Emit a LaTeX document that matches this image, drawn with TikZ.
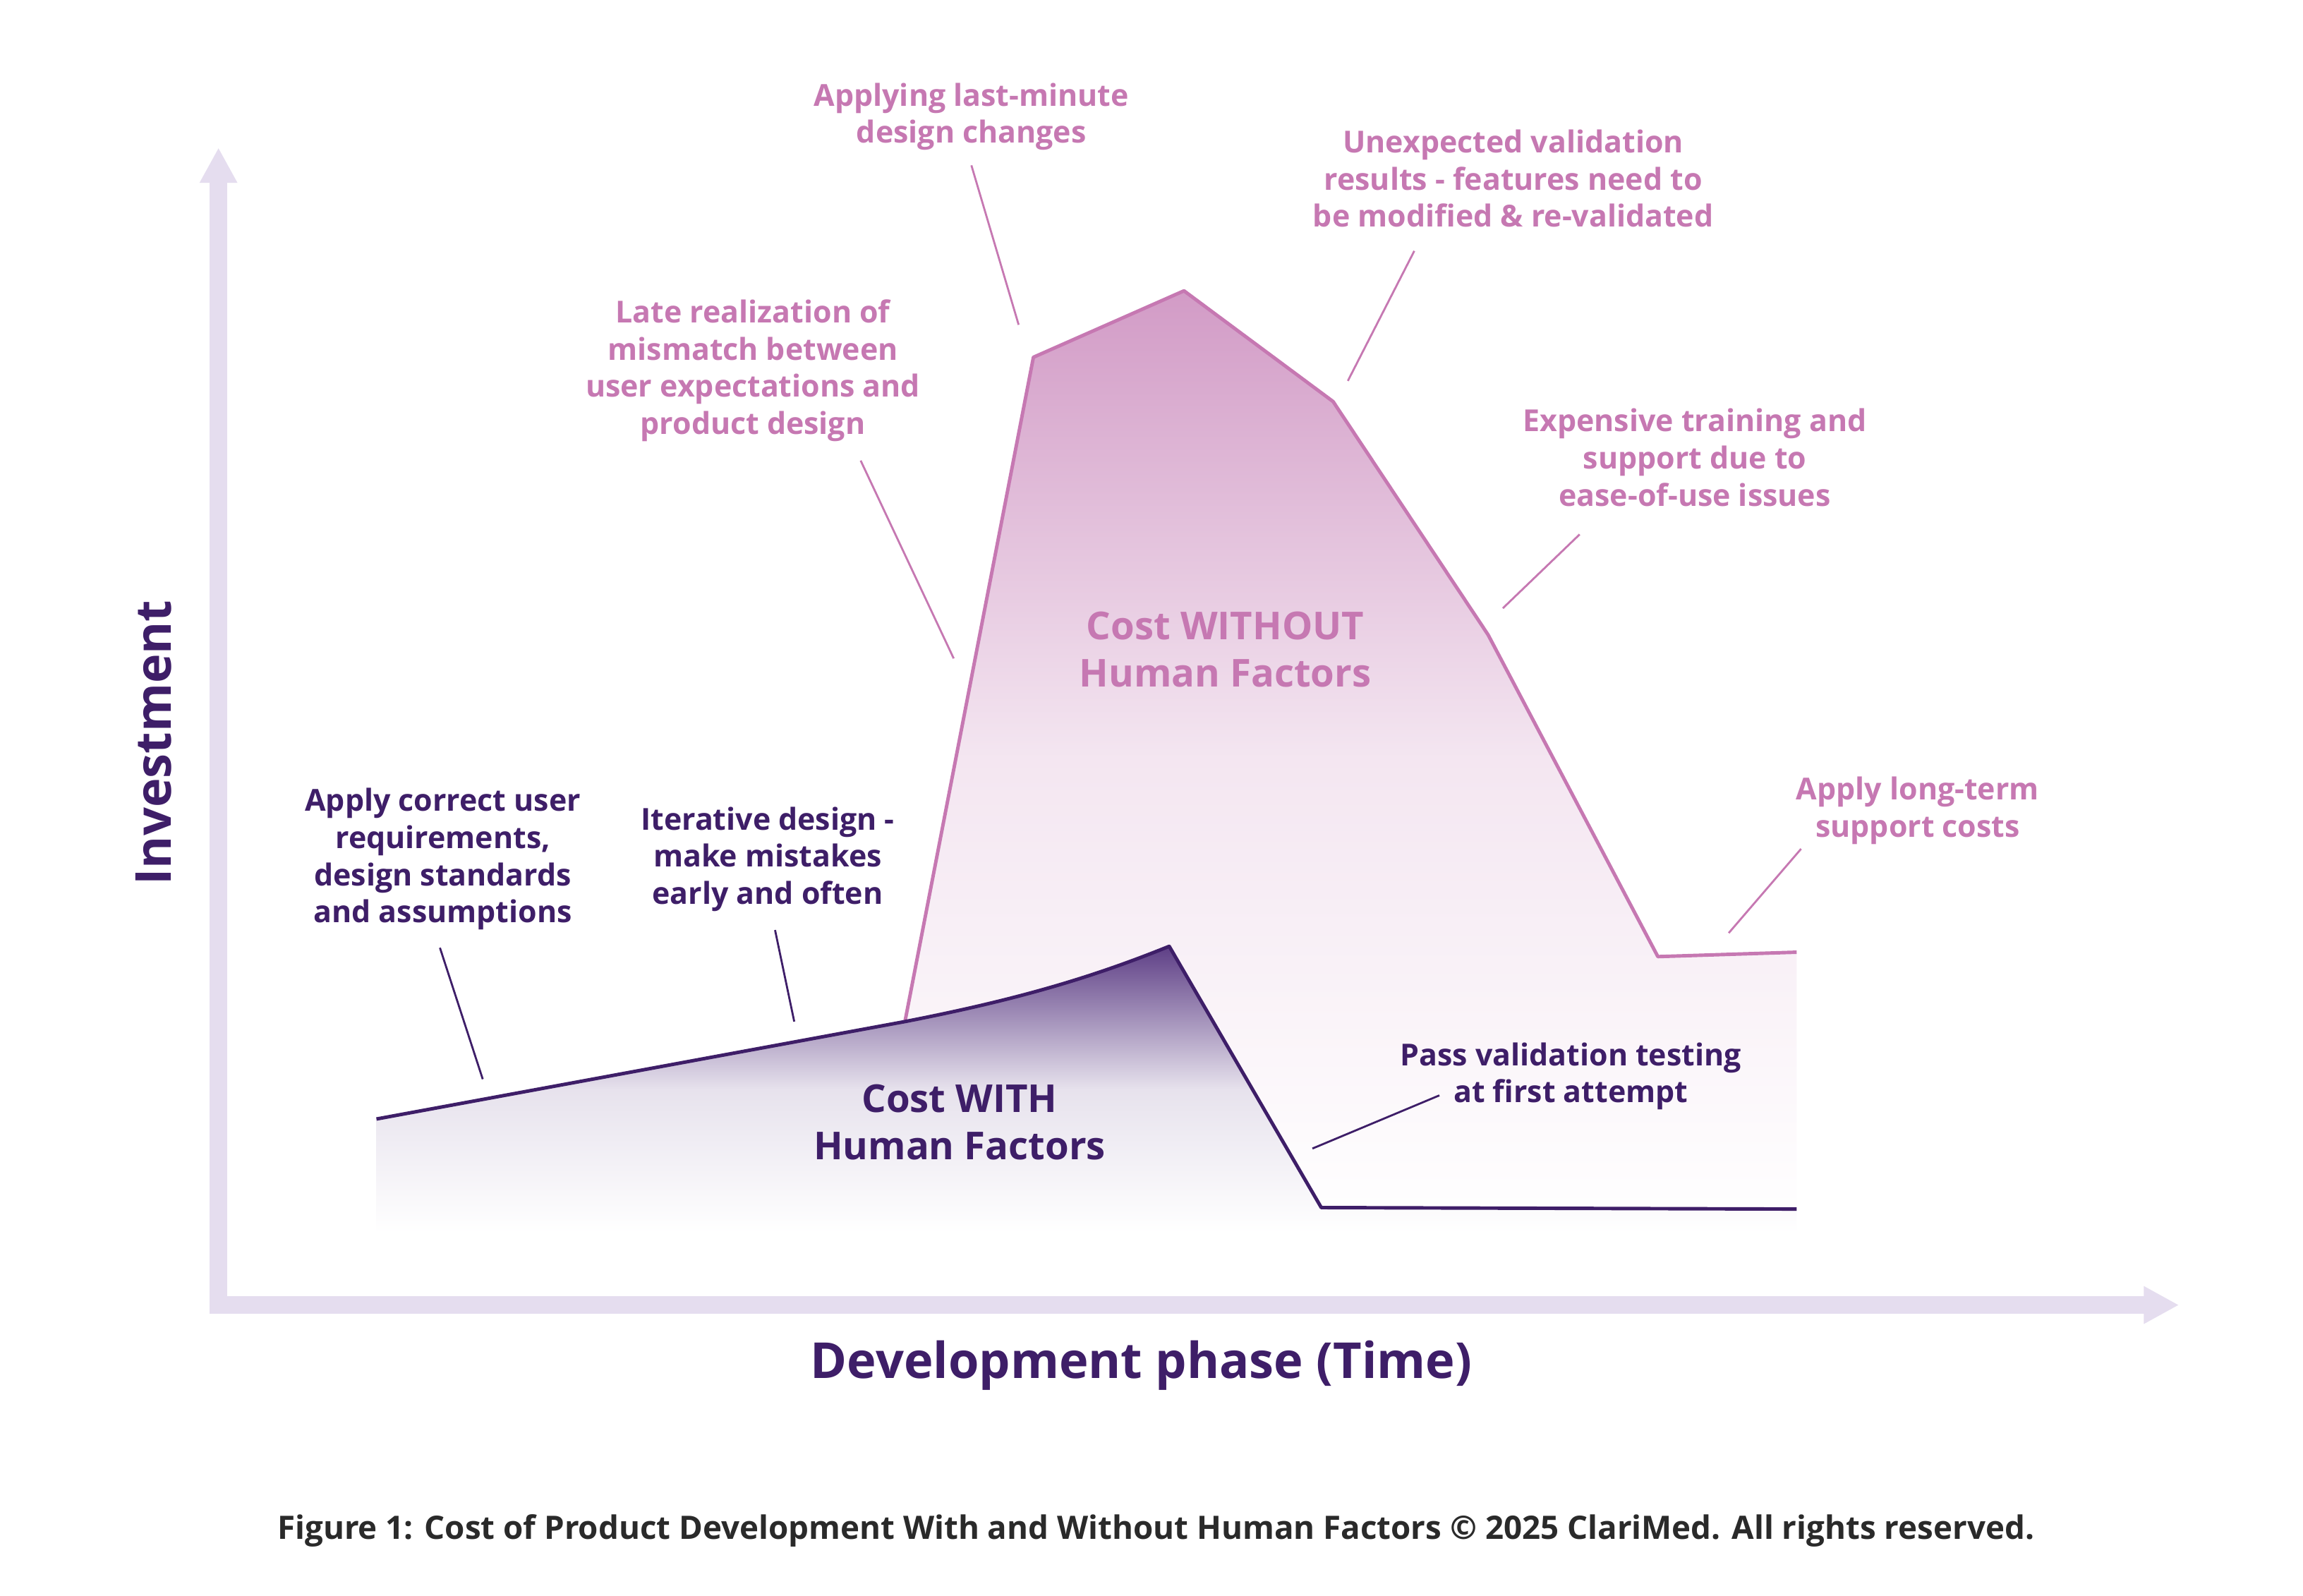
\documentclass[tikz,border=0pt]{standalone}
\usepackage{fontspec}
\setmainfont{Open Sans}
\usetikzlibrary{arrows.meta}
\definecolor{pk}{HTML}{C678B2}
\definecolor{pkf}{HTML}{D29BC6}
\definecolor{dp}{HTML}{3E1E68}
\definecolor{dpf}{HTML}{5E3F86}
\definecolor{ax}{HTML}{E5DDEF}
\definecolor{cap}{HTML}{2A2A2A}
\begin{document}
\begin{tikzpicture}[x=0.020923cm,y=-0.020923cm,
  pl/.style={text=pk,font=\fontsize{12.2}{15}\selectfont\bfseries,align=center},
  dl/.style={text=dp,font=\fontsize{12.2}{15}\selectfont\bfseries,align=center},
  big/.style={font=\fontsize{15.5}{19}\selectfont\bfseries,align=center},
  pline/.style={draw=pk,line width=0.8pt},
  dline/.style={draw=dp,line width=0.8pt}]
\useasboundingbox (0,0) rectangle (1560,1081);
\fill[white] (0,0) rectangle (1560,1081);
% without fill
\shade[top color=pkf,bottom color=white,middle color=pkf!25]
 (613,692)--(700,242)--(802,197)--(903,272)--(1008,430)--(1123,648)--(1217,645)--(1217,830)--(613,830)--cycle;
\draw[pk,line width=1.4pt,line join=round] (613,692)--(700,242)--(802,197)--(903,272)--(1008,430)--(1123,648)--(1217,645);
% with fill
\shade[top color=dpf,bottom color=white,middle color=dpf!15]
 (255,758)--(613,692) .. controls (690,677) and (740,662) .. (792,641)--(895,818)--(1217,819)--(1217,835)--(255,835)--cycle;
\draw[dp,line width=1.4pt,line join=round] (255,758)--(613,692) .. controls (690,677) and (740,662) .. (792,641)--(895,818)--(1217,819);
% axes
\coordinate (yt) at (148,100);
\coordinate (xt) at (1476,884);
\draw[ax,line width=0.25cm,-{Triangle[length=0.5cm,width=0.5cm]}] (148,890)--(yt);
\draw[ax,line width=0.25cm,-{Triangle[length=0.5cm,width=0.5cm]}] (142,884)--(xt);
% labels
\node[text=dp,font=\fontsize{20}{24}\selectfont\bfseries,rotate=90] (yl) at (104,503) {Investment};
\node[text=dp,font=\fontsize{20}{24}\selectfont\bfseries] (xl) at (773,925) {Development phase (Time)};
\node[text=cap,font=\fontsize{13}{16}\selectfont\bfseries] (cp) at (783,1037) {Figure 1: Cost of Product Development With and Without Human Factors © 2025 ClariMed. All rights reserved.};
\node[big,text=pk] (w) at (830,440) {Cost WITHOUT\\Human Factors};
\node[big,text=dp] (h) at (650,760) {Cost WITH\\Human Factors};
\node[pl] (a1) at (658,79) {Applying last-minute\\design changes};
\node[pl] (a2) at (510,251) {Late realization of\\mismatch between\\user expectations and\\product design};
\node[pl] (a3) at (1025,121) {Unexpected validation\\results - features need to\\be modified \& re-validated};
\node[pl] (a4) at (1148,310) {Expensive training and\\support due to\\ease-of-use issues};
\node[pl] (a5) at (1299,549) {Apply long-term\\support costs};
\node[dl] (b1) at (300,582) {Apply correct user\\requirements,\\design standards\\and assumptions};
\node[dl] (b2) at (520,582) {Iterative design -\\make mistakes\\early and often};
\node[dl] (b3) at (1064,729) {Pass validation testing\\at first attempt};
% leaders
\coordinate (p1) at (690,220); \coordinate (p2) at (646,446); \coordinate (p3) at (913,258);
\coordinate (p4) at (1018,412); \coordinate (p5) at (1171,632);
\coordinate (q1) at (327,731); \coordinate (q2) at (538,692); \coordinate (q3) at (889,778);
\draw[pline] (658,112)--(p1);
\draw[pline] (583,312)--(p2);
\draw[pline] (958,170)--(p3);
\draw[pline] (1070,362)--(p4);
\draw[pline] (1220,575)--(p5);
\draw[dline] (298,642)--(q1);
\draw[dline] (525,630)--(q2);
\draw[dline] (975,742)--(q3);
\end{tikzpicture}
\end{document}
